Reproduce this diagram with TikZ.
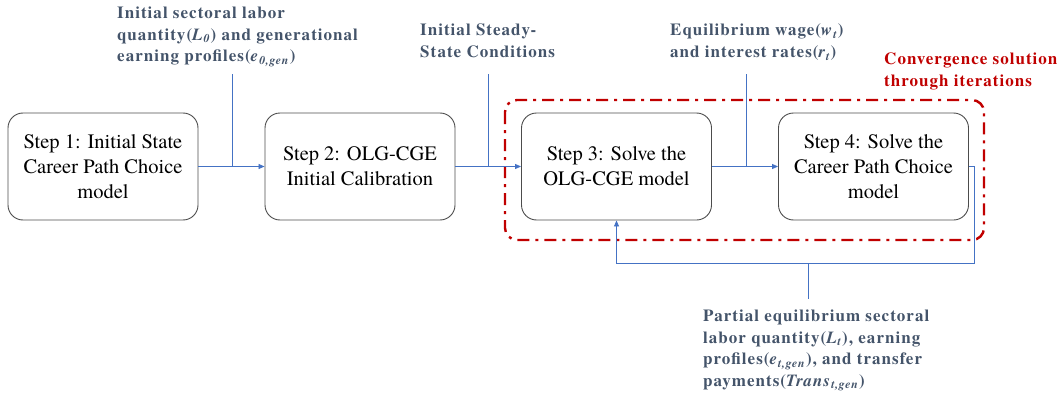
\documentclass[tikz,border=0pt]{standalone}
\usepackage{fontspec}
\setmainfont{TeX Gyre Termes}
\usetikzlibrary{arrows.meta}
\definecolor{rojoconv}{HTML}{C00000}
\definecolor{azullinea}{HTML}{4472C4}
\definecolor{grisnota}{HTML}{44546A}
\tikzset{
  paso/.style={draw=black!70,line width=0.9pt,rounded corners=15pt,
    minimum width=190pt,minimum height=107pt,align=center,
    font=\fontsize{20.5}{25}\selectfont},
  nota/.style={anchor=north west,inner sep=0pt,align=left,text=grisnota,
    font=\fontsize{17}{21.5}\selectfont\bfseries\addfontfeatures{LetterSpace=6}},
  enlace/.style={draw=azullinea,line width=0.8pt},
  flecha/.style={enlace,-{Triangle[length=6pt,width=5pt]}},
  lazo/.style={draw=rojoconv,line width=2.4pt,rounded corners=12pt,
    dash pattern=on 12pt off 6pt on 3pt off 6pt}
}
\newcommand{\sub}[1]{\textsubscript{\textit{#1}}}

\begin{document}
\begin{tikzpicture}[x=1pt,y=-1pt]
  \useasboundingbox (0,0) rectangle (1057,396);

  % pasos del modelo
  \node[paso] (s1) at (103,166.5) {Step 1: Initial State\\Career Path Choice\\model};
  \node[paso] (s2) at (360,166.5) {Step 2: OLG-CGE\\Initial Calibration};
  \node[paso] (s3) at (616.5,166.5) {Step 3: Solve the\\OLG-CGE model};
  \node[paso] (s4) at (873.5,166.5) {Step 4: Solve the\\Career Path Choice\\model};

  % bucle de convergencia
  \draw[lazo] (505,100) rectangle (984,240);
  \node[nota,text=rojoconv] (conv) at (884,53)
    {Convergence solution\\through iterations};

  % entradas
  \node[nota] (e1) at (117,7)
    {Initial sectoral labor\\quantity(\textit{L}\sub{0}) and generational\\earning profiles(\textit{e}\sub{0,gen})};
  \node[nota] (e2) at (420,24) {Initial Steady-\\State Conditions};
  \node[nota] (e3) at (670,24)
    {Equilibrium wage(\textit{w}\sub{t})\\and interest rates(\textit{r}\sub{t})};
  \node[nota] (e4) at (703,310)
    {Partial equilibrium sectoral\\labor quantity(\textit{L}\sub{t}), earning\\profiles(\textit{e}\sub{t,gen}), and transfer\\payments(\textit{Trans}\sub{t,gen})};

  \coordinate (t1) at (232,74);
  \coordinate (t2) at (488,74);
  \coordinate (t3) at (746,74);
  \coordinate (r4) at (974,263);
  \coordinate (fb) at (808,263);
  \coordinate (t4) at (808,299);

  % conectores
  \draw[flecha] (s1) -- (s2);
  \draw[flecha] (s2) -- (s3);
  \draw[flecha] (s3) -- (s4);
  \draw[enlace] (t1) -- (t1 |- s1.east);
  \draw[enlace] (t2) -- (t2 |- s2.east);
  \draw[enlace] (t3) -- (t3 |- s3.east);
  \draw[flecha] (s4.east) -| (r4) -| (s3.south);
  \draw[enlace] (fb) -- (t4);
\end{tikzpicture}
\end{document}
